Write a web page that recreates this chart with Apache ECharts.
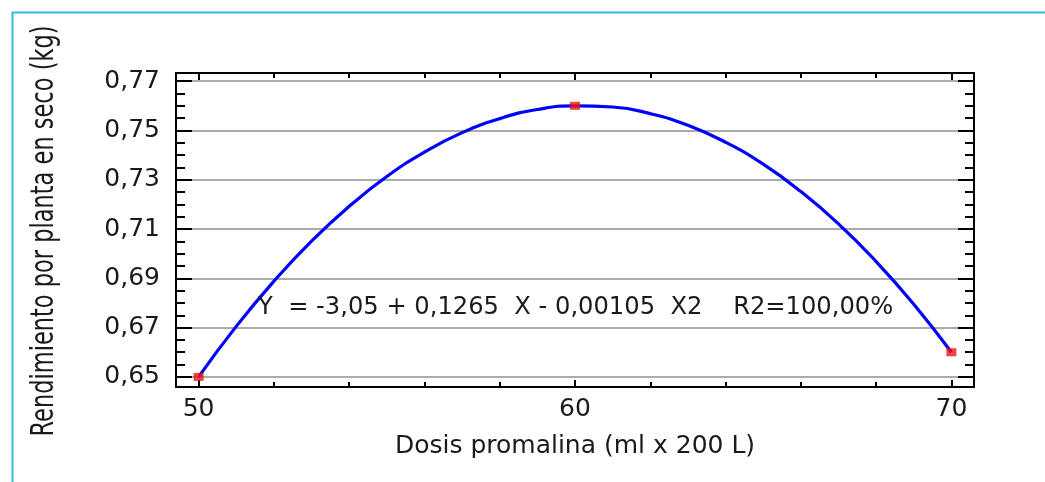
<!DOCTYPE html>
<html>
<head>
<meta charset="utf-8">
<script src="https://cdn.jsdelivr.net/npm/echarts@6/dist/echarts.min.js"></script>
<style>
html,body{margin:0;padding:0;background:#fff;}
#chart{width:1045px;height:482px;}
</style>
</head>
<body>
<div id="chart"></div>
<script>
// Observed points
const pointX = [50, 60, 70];
const pointY = [0.65, 0.76, 0.66];
// Fitted curve
const curveX = [50, 51, 52, 53, 54, 55, 56, 57, 58, 59, 60, 61, 62, 63, 64, 65, 66, 67, 68, 69, 70];
const curveY = [0.6500, 0.6705, 0.6888, 0.7051, 0.7192, 0.7313, 0.7412, 0.7491, 0.7548, 0.7585, 0.7600, 0.7595, 0.7568, 0.7521, 0.7452, 0.7363, 0.7252, 0.7121, 0.6968, 0.6795, 0.6600];
// Ticks
const xTickLabels = [50, 60, 70];
const xMinorTicks = [50, 52, 54, 56, 58, 60, 62, 64, 66, 68, 70];
const yTickLabels = [0.65, 0.67, 0.69, 0.71, 0.73, 0.75, 0.77];
const yMinorTicks = [0.65, 0.655, 0.66, 0.665, 0.67, 0.675, 0.68, 0.685, 0.69, 0.695, 0.70, 0.705, 0.71, 0.715, 0.72, 0.725, 0.73, 0.735, 0.74, 0.745, 0.75, 0.755, 0.76, 0.765, 0.77];
const xTitle = 'Dosis promalina (ml x 200 L)';
const yTitle = 'Rendimiento por planta en seco (kg)';
const equation = 'Y  = -3,05 + 0,1265  X - 0,00105  X2    R2=100,00%';

const X_MIN = 49.4, X_MAX = 70.6, Y_MIN = 0.6459, Y_MAX = 0.7733;
const FONT = 'DejaVu Sans';
const TXT = '#1a1a1a';

function xAx(pos, opts) {
  return Object.assign({
    type: 'value', position: pos, min: X_MIN, max: X_MAX,
    axisLine: { show: true, lineStyle: { color: '#000', width: 2 } },
    axisTick: { show: true, inside: true, length: 5, customValues: xMinorTicks, lineStyle: { color: '#000', width: 2 } },
    axisLabel: { show: false },
    splitLine: { show: false }
  }, opts);
}
function yAx(pos, opts) {
  return Object.assign({
    type: 'value', position: pos, min: Y_MIN, max: Y_MAX,
    axisLine: { show: true, lineStyle: { color: '#000', width: 2 } },
    axisTick: { show: true, inside: true, length: 9, customValues: yMinorTicks, lineStyle: { color: '#000', width: 2 } },
    axisLabel: { show: false },
    splitLine: { show: false }
  }, opts);
}

const chart = echarts.init(document.getElementById('chart'), null, { renderer: 'canvas' });
chart.setOption({
  backgroundColor: '#fff',
  animation: false,
  grid: { left: 176, top: 73, right: 71, bottom: 95, containLabel: false },
  xAxis: [
    xAx('bottom', {
      axisLabel: { show: true, customValues: xTickLabels, fontSize: 25, fontFamily: FONT, color: TXT, margin: 10,
        formatter: v => String(Math.round(v)) },
      name: xTitle, nameLocation: 'middle', nameGap: 47,
      nameTextStyle: { fontSize: 25, fontFamily: FONT, color: TXT }
    }),
    xAx('top', {}),
    xAx('bottom', { axisLine: { show: false }, axisTick: { show: true, inside: true, length: 7, customValues: xTickLabels, lineStyle: { color: '#000', width: 2 } } }),
    xAx('top', { axisLine: { show: false }, axisTick: { show: true, inside: true, length: 7, customValues: xTickLabels, lineStyle: { color: '#000', width: 2 } } })
  ],
  yAxis: [
    yAx('left', {
      axisLabel: { show: true, customValues: yTickLabels, fontSize: 25, fontFamily: FONT, color: TXT, margin: 16,
        formatter: v => v.toFixed(2).replace('.', ',') }
    }),
    yAx('right', {}),
    yAx('left', { axisLine: { show: false },
      axisTick: { show: true, inside: true, length: 16, customValues: yTickLabels, lineStyle: { color: '#000', width: 2 } },
      splitLine: { show: true, lineStyle: { color: '#8f8f8f', width: 1.5 } } }),
    yAx('right', { axisLine: { show: false },
      axisTick: { show: true, inside: true, length: 16, customValues: yTickLabels, lineStyle: { color: '#000', width: 2 } } })
  ],
  series: [
    {
      type: 'line', xAxisIndex: 0, yAxisIndex: 0,
      data: curveX.map((x, i) => [x, curveY[i]]),
      smooth: true, showSymbol: false, symbol: 'none',
      lineStyle: { color: '#0000ff', width: 3.2 }, z: 3
    },
    {
      type: 'scatter', xAxisIndex: 0, yAxisIndex: 0,
      data: pointX.map((x, i) => [x, pointY[i]]),
      symbol: 'rect', symbolSize: [10, 8],
      itemStyle: { color: '#ee1111' }, z: 4
    }
  ],
  graphic: [
    { type: 'rect', left: 10, top: 10, silent: true,
      shape: { x: 0, y: 0, width: 1200, height: 600 },
      style: { fill: 'none', stroke: '#3db3e8', lineWidth: 2 } },
    { type: 'text', x: 45, y: 231, rotation: Math.PI / 2, scaleY: 1.45, silent: true,
      style: { text: yTitle, fontSize: 22.5, fontFamily: FONT, fill: TXT, align: 'center', verticalAlign: 'middle' } },
    { type: 'text', left: 258, top: 296, silent: true, z: 10,
      style: { text: equation, fontSize: 24.2, fontFamily: FONT, fill: TXT } }
  ]
});
</script>
</body>
</html>
